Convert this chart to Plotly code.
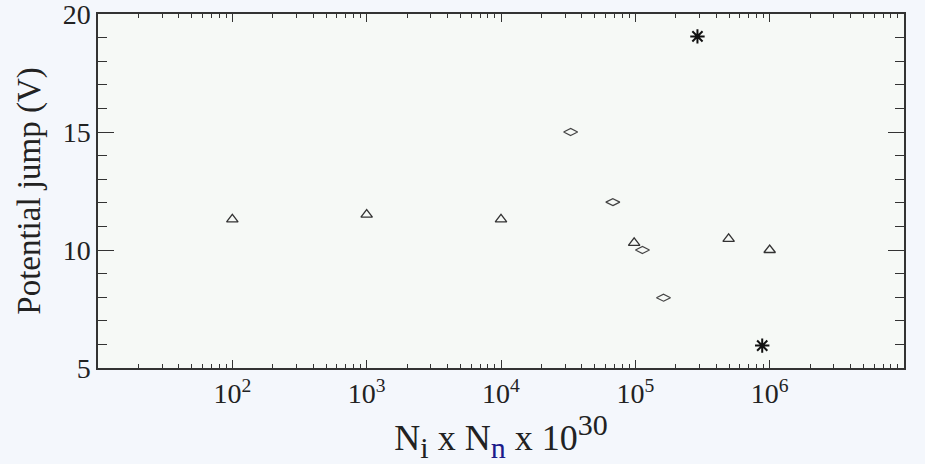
import plotly.graph_objects as go

# Ion x neutral density product (units of 1e30) and measured potential jump (V)
tri_x = [1e2, 1e3, 1e4, 9.8e4, 4.95e5, 1.0e6]
tri_y = [11.3, 11.5, 11.3, 10.3, 10.47, 10.0]

dia_x = [3.3e4, 6.8e4, 1.13e5, 1.62e5]
dia_y = [15.0, 12.03, 10.0, 7.98]

star_x = [2.9e5, 8.8e5]
star_y = [19.05, 5.95]

x_tick_vals = [1e2, 1e3, 1e4, 1e5, 1e6]
x_tick_text = ["10<sup>2</sup>", "10<sup>3</sup>", "10<sup>4</sup>",
               "10<sup>5</sup>", "10<sup>6</sup>"]
y_tick_vals = [5, 10, 15, 20]
y_tick_text = ["5", "10", "15", "20"]

minor_x = [m * 10 ** e for e in range(1, 7) for m in range(2, 10)]

FONT = "Liberation Serif"
INK = "#222222"

fig = go.Figure()
fig.add_trace(go.Scatter(
    x=tri_x, y=tri_y, mode="markers",
    marker=dict(symbol="triangle-up-open", size=10, color="#333333",
                line=dict(width=1.3)),
    showlegend=False))
fig.add_trace(go.Scatter(
    x=dia_x, y=dia_y, mode="markers",
    marker=dict(symbol="diamond-wide-open", size=10, color="#444444",
                line=dict(width=1.2)),
    showlegend=False))
fig.add_trace(go.Scatter(
    x=star_x, y=star_y, mode="markers",
    marker=dict(symbol="asterisk-open", size=12, color="#111111",
                line=dict(width=2, color="#111111")),
    showlegend=False))

fig.update_layout(
    width=925, height=464,
    margin=dict(l=98, r=21, t=14, b=96, autoexpand=False),
    paper_bgcolor="#f4f7fc",
    plot_bgcolor="#f6f9f6",
    font=dict(family=FONT, color=INK),
)

fig.update_xaxes(
    type="log", range=[1, 7], automargin=False,
    tickmode="array", tickvals=x_tick_vals, ticktext=x_tick_text,
    tickfont=dict(size=28, family=FONT, color=INK),
    ticks="inside", ticklen=8, tickwidth=1.3, tickcolor="#333333",
    minor=dict(tickmode="array", tickvals=minor_x, ticks="inside",
               ticklen=4, tickwidth=1.2, tickcolor="#333333", showgrid=False),
    showline=True, linecolor="#333333", linewidth=1.5,
    mirror="allticks", showgrid=False, zeroline=False,
    title=dict(
        text=("N<sub><span style='font-size:30px'>i</span></sub> x "
              "N<sub><span style='font-size:30px;color:#1c1c8a'>n</span></sub>"
              " x 10<sup><span style='font-size:30px'>30</span></sup>"),
        font=dict(size=36, family=FONT, color=INK), standoff=14),
)

fig.update_yaxes(
    range=[5, 20], automargin=False,
    tickmode="array", tickvals=y_tick_vals, ticktext=y_tick_text,
    ticklabeloverflow="allow",
    tickfont=dict(size=28, family=FONT, color=INK),
    ticks="inside", ticklen=16, tickwidth=1.3, tickcolor="#333333",
    minor=dict(dtick=1, ticks="inside", ticklen=9, tickwidth=1.2,
               tickcolor="#333333", showgrid=False),
    showline=True, linecolor="#333333", linewidth=1.5,
    mirror="allticks", showgrid=False, zeroline=False,
    title=dict(text="Potential jump (V)",
               font=dict(size=33, family=FONT, color=INK), standoff=12),
)

fig.write_html("out.html")
